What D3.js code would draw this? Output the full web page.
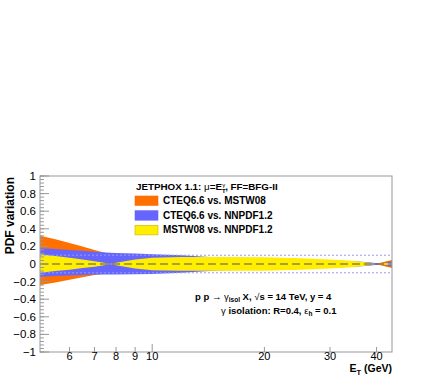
<!DOCTYPE html>
<html>
<head>
<meta charset="utf-8">
<script src="https://cdn.jsdelivr.net/npm/d3@7"></script>
<style>
  body { margin: 0; background: #fff; }
  svg text { font-family: "Liberation Sans", Arial, sans-serif; }
</style>
</head>
<body>
<svg id="chart" width="436" height="382"></svg>
<script>
// E_T sample points (GeV)
const etPoints = [5, 5.5, 6, 6.5, 7, 7.5, 7.7, 8, 9, 10, 12, 15, 20, 25, 30, 35, 38, 39.7, 41, 42, 44];

// CTEQ6.6 vs. MSTW08 (orange)
const cteqMstwHi = [0.32, 0.28, 0.24, 0.20, 0.16, 0.125, 0.115, 0.10, 0.09, 0.08, 0.07, 0.06, 0.05, 0.04, 0.03, 0.02, 0.01, 0.005, 0.015, 0.025, 0.045];
const cteqMstwLo = [-0.24, -0.21, -0.18, -0.15, -0.125, -0.11, -0.105, -0.10, -0.09, -0.08, -0.07, -0.06, -0.05, -0.04, -0.03, -0.02, -0.01, -0.005, -0.015, -0.025, -0.045];

// CTEQ6.6 vs. NNPDF1.2 (blue)
const cteqNnpdfHi = [0.18, 0.17, 0.16, 0.15, 0.14, 0.13, 0.128, 0.125, 0.118, 0.112, 0.10, 0.075, 0.06, 0.05, 0.04, 0.032, 0.02, 0.01, 0.0, 0.012, 0.03];
const cteqNnpdfLo = [-0.145, -0.135, -0.13, -0.125, -0.12, -0.12, -0.12, -0.118, -0.116, -0.114, -0.10, -0.075, -0.06, -0.05, -0.04, -0.032, -0.02, -0.01, 0.0, -0.012, -0.03];

// MSTW08 vs. NNPDF1.2 (yellow)
const mstwNnpdfHi = [0.11, 0.09, 0.07, 0.05, 0.03, 0.01, 0.0, 0.015, 0.05, 0.07, 0.08, 0.08, 0.076, 0.065, 0.05, 0.035, 0.015, 0.0, 0.006, 0.008, 0.01];
const mstwNnpdfLo = [-0.10, -0.08, -0.065, -0.045, -0.03, -0.01, 0.0, -0.015, -0.05, -0.07, -0.078, -0.078, -0.076, -0.065, -0.05, -0.035, -0.015, 0.0, -0.006, -0.008, -0.01];

const xTickValues = [6, 7, 8, 9, 10, 20, 30, 40];
const yTickValues = [-1, -0.8, -0.6, -0.4, -0.2, 0, 0.2, 0.4, 0.6, 0.8, 1];
const refLines = [-0.1, 0.1];

const legendItems = [
  { label: "CTEQ6.6 vs. MSTW08", color: "#ff7000", stroke: "#ff7000" },
  { label: "CTEQ6.6 vs. NNPDF1.2", color: "#6666ff", stroke: "#6666ff" },
  { label: "MSTW08 vs. NNPDF1.2", color: "#ffee00", stroke: "#c8b400" }
];

const svg = d3.select("#chart");
const padL = 40, padR = 392, padT = 176, padB = 352;

const x = d3.scaleLog().domain([5, 44]).range([padL, padR]);
const y = d3.scaleLinear().domain([-1, 1]).range([padB, padT]);

// bands
function band(hi, lo, color) {
  const area = d3.area()
    .x((d, i) => x(etPoints[i]))
    .y0((d, i) => y(lo[i]))
    .y1((d, i) => y(hi[i]));
  svg.append("path")
    .datum(hi)
    .attr("d", area)
    .attr("fill", color);
}
band(cteqMstwHi, cteqMstwLo, "#ff7000");
band(cteqNnpdfHi, cteqNnpdfLo, "#6666ff");
band(mstwNnpdfHi, mstwNnpdfLo, "#ffee00");

// dotted reference lines
svg.selectAll(".ref")
  .data(refLines)
  .enter()
  .append("line")
  .attr("x1", padL).attr("x2", padR)
  .attr("y1", d => y(d)).attr("y2", d => y(d))
  .attr("stroke", "#9999ff")
  .attr("stroke-width", 1)
  .attr("stroke-dasharray", "2,2");

// dashed zero line
svg.append("line")
  .attr("x1", padL).attr("x2", padR)
  .attr("y1", y(0)).attr("y2", y(0))
  .attr("stroke", "#555")
  .attr("stroke-width", 1)
  .attr("stroke-dasharray", "8,4");

// frame
svg.append("rect")
  .attr("x", padL).attr("y", padT)
  .attr("width", padR - padL).attr("height", padB - padT)
  .attr("fill", "none")
  .attr("stroke", "#999")
  .attr("stroke-width", 1);

// y ticks (inside)
const yMinor = d3.range(-1, 1.0001, 0.04);
svg.selectAll(".yminor")
  .data(yMinor)
  .enter()
  .append("line")
  .attr("x1", padL).attr("x2", padL + 4)
  .attr("y1", d => y(d)).attr("y2", d => y(d))
  .attr("stroke", "#999");
svg.selectAll(".ymajor")
  .data(yTickValues)
  .enter()
  .append("line")
  .attr("x1", padL).attr("x2", padL + 9)
  .attr("y1", d => y(d)).attr("y2", d => y(d))
  .attr("stroke", "#999");
svg.selectAll(".ylab")
  .data(yTickValues)
  .enter()
  .append("text")
  .attr("x", padL - 4)
  .attr("y", d => y(d) + 4)
  .attr("text-anchor", "end")
  .attr("font-size", 11.5)
  .text(d => d3.format("")(+d.toFixed(1)));

// x ticks (inside)
svg.selectAll(".xtick")
  .data(xTickValues)
  .enter()
  .append("line")
  .attr("x1", d => x(d)).attr("x2", d => x(d))
  .attr("y1", padB).attr("y2", d => padB - (d === 10 ? 8 : 5))
  .attr("stroke", "#999");
svg.selectAll(".xlab")
  .data(xTickValues)
  .enter()
  .append("text")
  .attr("x", d => x(d))
  .attr("y", 360)
  .attr("text-anchor", "middle")
  .attr("font-size", 11)
  .text(d => d);

// axis titles
svg.append("text")
  .attr("transform", "translate(14," + (padT + 1) + ") rotate(-90)")
  .attr("text-anchor", "end")
  .attr("font-size", 12)
  .attr("font-weight", "bold")
  .text("PDF variation");

const xt = svg.append("text")
  .attr("x", padR)
  .attr("y", 372)
  .attr("text-anchor", "end")
  .attr("font-size", 10.5)
  .attr("font-weight", "bold");
xt.append("tspan").text("E");
xt.append("tspan").attr("dy", 2.5).attr("font-size", 7.5).text("T");
xt.append("tspan").attr("dy", -2.5).text(" (GeV)");

// legend
const head = svg.append("text")
  .attr("x", 136).attr("y", 190)
  .attr("font-size", 9.8)
  .attr("font-weight", "bold");
head.append("tspan").text("JETPHOX 1.1: ");
head.append("tspan").attr("font-weight", "normal").text("\u03bc");
head.append("tspan").text("=E");
head.append("tspan").attr("dy", 2.5).attr("font-size", 6).text("T");
head.append("tspan").attr("dy", -6).attr("dx", -3.5).attr("font-size", 6).attr("font-weight", "normal").text("\u03b3");
head.append("tspan").attr("dy", 3.5).text(", FF=BFG-II");

const leg = svg.selectAll(".leg")
  .data(legendItems)
  .enter()
  .append("g")
  .attr("transform", (d, i) => "translate(135," + (196 + i * 14.7) + ")");
leg.append("rect")
  .attr("width", 23).attr("height", 9.5)
  .attr("fill", d => d.color)
  .attr("stroke", d => d.stroke)
  .attr("stroke-width", 0.6);
leg.append("text")
  .attr("x", 28).attr("y", 8)
  .attr("font-size", 10)
  .attr("font-weight", "bold")
  .text(d => d.label);

// annotation
const a1 = svg.append("text")
  .attr("x", 195).attr("y", 300)
  .attr("font-size", 9.5)
  .attr("font-weight", "bold");
a1.append("tspan").text("p p \u2192 ");
a1.append("tspan").attr("font-weight", "normal").text("\u03b3");
a1.append("tspan").attr("dy", 2).attr("font-size", 6.5).text("isol");
a1.append("tspan").attr("dy", -2).text(" X, ");
a1.append("tspan").attr("font-weight", "normal").text("\u221a");
a1.append("tspan").text("s = 14 TeV, y = 4");

const a2 = svg.append("text")
  .attr("x", 221).attr("y", 314)
  .attr("font-size", 9.5)
  .attr("font-weight", "bold");
a2.append("tspan").attr("font-weight", "normal").text("\u03b3");
a2.append("tspan").text(" isolation: R=0.4, ");
a2.append("tspan").attr("font-weight", "normal").text("\u03b5");
a2.append("tspan").attr("dy", 2).attr("font-size", 6.5).text("h");
a2.append("tspan").attr("dy", -2).text(" = 0.1");
</script>
</body>
</html>
